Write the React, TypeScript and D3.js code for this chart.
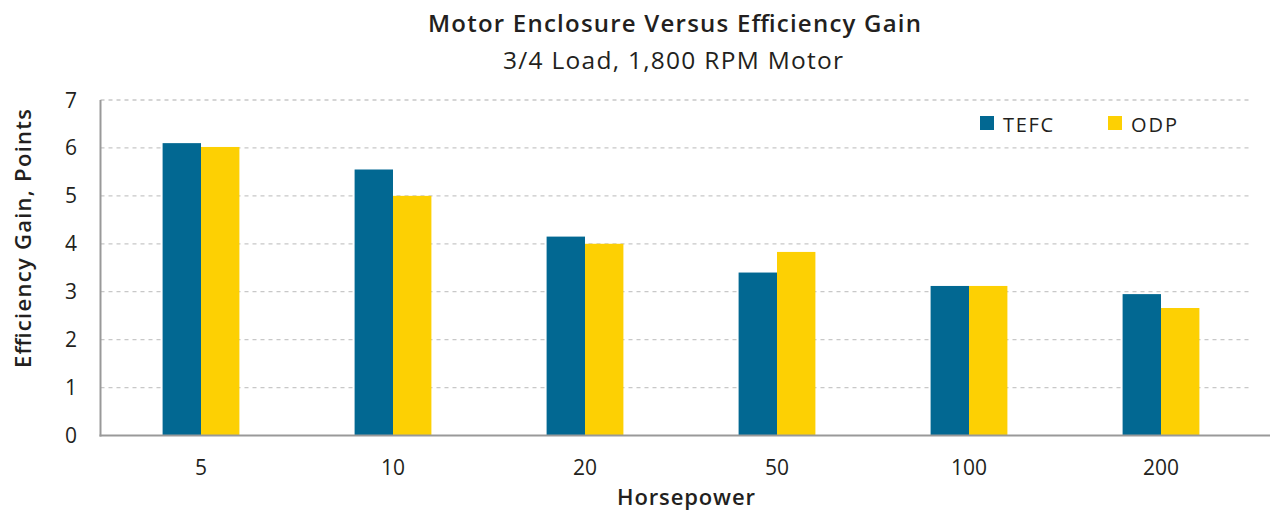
import React from "react";
import * as d3 from "d3";

const categories = ["5", "10", "20", "50", "100", "200"];
const seriesNames = ["TEFC", "ODP"];
const tefcValues = [6.1, 5.55, 4.15, 3.4, 3.12, 2.95];
const odpValues = [6.02, 5.0, 4.0, 3.83, 3.12, 2.66];
const yTicks = [0, 1, 2, 3, 4, 5, 6, 7];
const colors = ["#026892", "#FDD003"];
const legendTextWidths = [50, 46];

const W = 1270;
const H = 512;
const FONT = "'Open Sans', sans-serif";

export default function App() {
  const x = d3.scaleBand<string>().domain(categories).range([105, 1257]).paddingInner(0.6).paddingOuter(0.3);
  const x1 = d3.scaleBand<string>().domain(seriesNames).range([0, x.bandwidth()]);
  const y = d3.scaleLinear().domain([0, 7]).range([435.5, 100]);
  const data = [tefcValues, odpValues];
  const axisX = 100.5;

  return (
    <svg width={W} height={H} style={{ position: "absolute", left: 0, top: 0, background: "#fff" }} fontFamily={FONT}>
      <text x={428} y={32} fontSize={24} fontWeight={600} fill="#231f20" textLength={493} lengthAdjust="spacing">
        Motor Enclosure Versus Efficiency Gain
      </text>
      <text x={503} y={69} fontSize={24.5} fill="#231f20" textLength={340} lengthAdjust="spacing">
        3/4 Load, 1,800 RPM Motor
      </text>
      {yTicks.map((t) =>
        t === 0 ? null : (
          <line key={"g" + t} x1={axisX} x2={1250} y1={y(t)} y2={y(t)} stroke="#c8c8c8" strokeWidth={1.3} strokeDasharray="4 4" />
        )
      )}
      {yTicks.map((t) => (
        <text key={"yt" + t} x={77} y={y(t) + 7.5} textAnchor="end" fontSize={21} fill="#231f20">
          {t}
        </text>
      ))}
      {categories.map((c, i) =>
        seriesNames.map((s, j) => (
          <rect
            key={c + s}
            x={(x(c) as number) + (x1(s) as number)}
            y={y(data[j][i])}
            width={x1.bandwidth()}
            height={y(0) - y(data[j][i])}
            fill={colors[j]}
          />
        ))
      )}
      <line x1={axisX} x2={axisX} y1={100} y2={436.5} stroke="#999" strokeWidth={2} />
      <line x1={axisX - 1} x2={1270} y1={435.5} y2={435.5} stroke="#999" strokeWidth={2} />
      {categories.map((c) => (
        <text key={"xt" + c} x={(x(c) as number) + x.bandwidth() / 2} y={475} textAnchor="middle" fontSize={21} fill="#231f20">
          {c}
        </text>
      ))}
      <text x={617} y={505} fontSize={22} fontWeight={600} fill="#231f20" textLength={138} lengthAdjust="spacing">
        Horsepower
      </text>
      <text transform="translate(31,368) rotate(-90)" fontSize={22} fontWeight={600} fill="#231f20" textLength={259} lengthAdjust="spacing">
        Efficiency Gain, Points
      </text>
      {seriesNames.map((s, j) => (
        <g key={"lg" + s} transform={`translate(${980 + j * 128},116)`}>
          <rect width={14} height={14} fill={colors[j]} />
          <text x={23} y={15.5} fontSize={20} fill="#231f20" textLength={legendTextWidths[j]} lengthAdjust="spacing">
            {s}
          </text>
        </g>
      ))}
    </svg>
  );
}
